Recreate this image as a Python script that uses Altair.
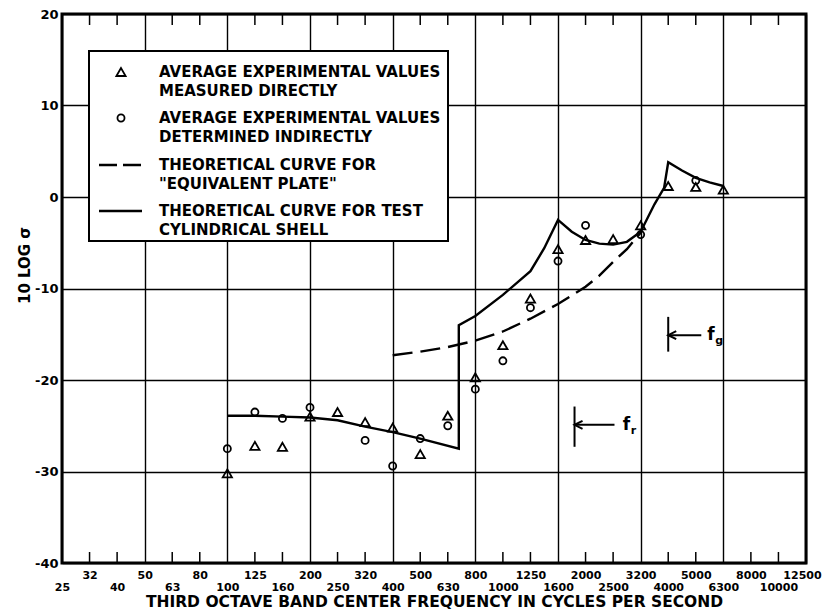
import altair as alt
import pandas as pd

# ---------------- data ----------------
bands = ["25", "32", "40", "50", "63", "80", "100", "125", "160", "200", "250",
         "320", "400", "500", "630", "800", "1000", "1250", "1600", "2000",
         "2500", "3200", "4000", "5000", "6300", "8000", "10000", "12500"]
band_pos = {b: i for i, b in enumerate(bands)}

# average experimental values measured directly (triangles)
direct_bands = ["100", "125", "160", "200", "250", "320", "400", "500", "630", "800",
                "1000", "1250", "1600", "2000", "2500", "3200", "4000", "5000", "6300"]
direct_vals = [-30.2, -27.2, -27.3, -24.0, -23.5, -24.6, -25.2, -28.1, -23.9, -19.7,
               -16.2, -11.1, -5.7, -4.7, -4.6, -3.1, 1.2, 1.1, 0.8]

# average experimental values determined indirectly (circles)
indirect_bands = ["100", "125", "160", "200", "320", "400", "500", "630", "800",
                  "1000", "1250", "1600", "2000", "3200", "5000"]
indirect_vals = [-27.5, -23.5, -24.2, -23.0, -26.6, -29.4, -26.4, -25.0, -21.0,
                 -17.9, -12.1, -7.0, -3.1, -4.1, 1.8]

# theoretical curve for test cylindrical shell (position in band steps)
shell_pos = [6, 7, 8, 9, 10, 11, 12, 13, 14.4, 14.4, 15, 16, 17, 17.5, 18, 18.5,
             19, 19.5, 20, 20.5, 21, 21.5, 21.85, 22, 22.5, 23, 23.5, 24]
shell_vals = [-23.9, -23.9, -24.0, -24.1, -24.4, -25.1, -25.7, -26.4, -27.5, -14.0,
              -13.0, -10.7, -8.1, -5.6, -2.5, -3.8, -4.7, -5.1, -5.2, -4.9, -3.8,
              -0.8, 1.0, 3.8, 2.9, 2.1, 1.6, 1.2]

# theoretical curve for "equivalent plate"
plate_pos = [12, 13, 14, 15, 16, 17, 18, 19, 19.5, 20, 20.5, 21]
plate_vals = [-17.3, -16.9, -16.4, -15.7, -14.7, -13.3, -11.7, -9.8, -8.6, -7.1,
              -5.7, -3.9]

legend_lines = ["AVERAGE EXPERIMENTAL VALUES", "MEASURED DIRECTLY",
                "AVERAGE EXPERIMENTAL VALUES", "DETERMINED INDIRECTLY",
                "THEORETICAL CURVE FOR", "\"EQUIVALENT PLATE\"",
                "THEORETICAL CURVE FOR TEST", "CYLINDRICAL SHELL"]

# frequency markers f_r and f_g
marker_sub = ["r", "g"]
marker_pos = [18.6, 22.0]
marker_top = [-22.9, -13.1]
marker_bottom = [-27.3, -16.9]
marker_arrow_y = [-24.9, -15.1]
marker_tail = [20.05, 23.2]
marker_text_pos = [20.35, 23.42]

y_ticks = [-40, -30, -20, -10, 0, 10, 20]

# ---------------- layout ----------------
W, H = 744, 549
FONT = "DejaVu Sans"
INK = "black"
LAST = len(bands) - 1

xs = alt.Scale(domain=[0, LAST], nice=False, zero=False)
ys = alt.Scale(domain=[y_ticks[0], y_ticks[-1]], nice=False, zero=False)

band_arr = "[" + ",".join("'%s'" % b for b in bands) + "]"
label_expr = ("datum.value % 2 == 1 ? " + band_arr + "[datum.value] : ['', "
              + band_arr + "[datum.value]]")

x_axis = alt.Axis(
    values=list(range(len(bands))),
    labelExpr=label_expr,
    labelFontSize=11, labelFontWeight="bold", labelLineHeight=12, labelPadding=6,
    labelOffset={"condition": {"test": "datum.value == %d" % LAST, "value": -4}, "value": 0},
    labelOverlap=False, labelFlush=False, labelBound=False,
    ticks=False, domain=False,
    grid=True, gridColor=INK, gridWidth=1.4,
    gridOpacity={"condition": {"test": "datum.value % 3 == 0", "value": 1}, "value": 0},
    title="THIRD OCTAVE BAND CENTER FREQUENCY IN CYCLES PER SECOND",
    titleFontSize=15.5, titleFontWeight="bold", titlePadding=2,
)
y_axis = alt.Axis(
    values=y_ticks,
    labelExpr="'' + datum.value",
    labelFontSize=13, labelFontWeight="bold", labelPadding=4,
    ticks=False, domain=False,
    grid=True, gridColor=INK, gridWidth=1.4,
    title="10 LOG σ", titleFontSize=15, titleFontWeight="bold", titlePadding=2,
    titleY=251,
)

X = lambda f: alt.X(f, scale=xs, axis=x_axis)
Y = lambda f: alt.Y(f, scale=ys, axis=y_axis)

shell_df = pd.DataFrame({"pos": shell_pos, "val": shell_vals,
                         "order": list(range(len(shell_pos)))})
shell = alt.Chart(shell_df).mark_line(color=INK, strokeWidth=2.4).encode(
    x=X("pos:Q"), y=Y("val:Q"), order="order:Q",
)

plate_df = pd.DataFrame({"pos": plate_pos, "val": plate_vals})
plate = alt.Chart(plate_df).mark_line(color=INK, strokeWidth=2.4, strokeDash=[20, 8]).encode(
    x=X("pos:Q"), y=Y("val:Q"),
)

direct_df = pd.DataFrame({"pos": [band_pos[b] for b in direct_bands], "val": direct_vals})
direct = alt.Chart(direct_df).mark_point(
    shape="triangle-up", filled=False, size=85, strokeWidth=1.8, color=INK, opacity=1
).encode(x=X("pos:Q"), y=Y("val:Q"))

indirect_df = pd.DataFrame({"pos": [band_pos[b] for b in indirect_bands], "val": indirect_vals})
indirect = alt.Chart(indirect_df).mark_point(
    shape="circle", filled=False, size=50, strokeWidth=1.8, color=INK, opacity=1
).encode(x=X("pos:Q"), y=Y("val:Q"))

minor_df = pd.DataFrame({"pos": [i for i in range(len(bands)) if i % 3 != 0]})
ticks_bottom = alt.Chart(minor_df).mark_rule(color=INK, strokeWidth=1.5).encode(
    x=X("pos:Q"), y=alt.value(H), y2=alt.value(H - 11))
ticks_top = alt.Chart(minor_df).mark_rule(color=INK, strokeWidth=1.5).encode(
    x=X("pos:Q"), y=alt.value(0), y2=alt.value(11))

# ---------------- legend box ----------------
one = pd.DataFrame({"k": [0]})
leg_box = alt.Chart(one).mark_rect(fill="white", stroke=INK, strokeWidth=2).encode(
    x=alt.value(27), x2=alt.value(386), y=alt.value(37), y2=alt.value(227))

leg_text_df = pd.DataFrame({
    "text": legend_lines,
    "ypx": [58 + (i // 2) * 46.3 + (i % 2) * 19 for i in range(len(legend_lines))],
})
leg_text = alt.Chart(leg_text_df).mark_text(
    align="left", baseline="middle", font=FONT, fontSize=15, fontWeight="bold", color=INK
).encode(x=alt.value(97), y=alt.Y("ypx:Q", scale=None), text="text:N")

leg_tri = alt.Chart(one).mark_point(
    shape="triangle-up", filled=False, size=85, strokeWidth=1.8, color=INK, opacity=1
).encode(x=alt.value(59), y=alt.value(58))
leg_circ = alt.Chart(one).mark_point(
    shape="circle", filled=False, size=50, strokeWidth=1.8, color=INK, opacity=1
).encode(x=alt.value(59), y=alt.value(104))
leg_dash = alt.Chart(one).mark_rule(color=INK, strokeWidth=2.4, strokeDash=[18, 6]).encode(
    x=alt.value(37), x2=alt.value(80), y=alt.value(151))
leg_solid = alt.Chart(one).mark_rule(color=INK, strokeWidth=2.4).encode(
    x=alt.value(37), x2=alt.value(80), y=alt.value(197))

# ---------------- f_r / f_g markers ----------------
mk_df = pd.DataFrame({
    "sub": marker_sub, "pos": marker_pos, "top": marker_top, "bot": marker_bottom,
    "ay": marker_arrow_y, "tail": marker_tail, "tpos": marker_text_pos,
})
mk_bar = alt.Chart(mk_df).mark_rule(color=INK, strokeWidth=2).encode(
    x=X("pos:Q"), y=Y("top:Q"), y2="bot:Q")
mk_shaft = alt.Chart(mk_df).mark_rule(color=INK, strokeWidth=2).encode(
    x=X("pos:Q"), x2="tail:Q", y=Y("ay:Q"))
mk_head = alt.Chart(mk_df).mark_point(
    shape="M 2 -1 L 0 0 L 2 1", filled=False, size=64, strokeWidth=2, color=INK, opacity=1
).encode(x=X("pos:Q"), y=Y("ay:Q"))
mk_f = alt.Chart(mk_df).mark_text(
    text="f", align="left", baseline="middle", font=FONT, fontSize=17, fontWeight="bold",
    color=INK
).encode(x=X("tpos:Q"), y=Y("ay:Q"))
mk_s = alt.Chart(mk_df).mark_text(
    align="left", baseline="middle", font=FONT, fontSize=11, fontWeight="bold", color=INK,
    dx=8, dy=6
).encode(x=X("tpos:Q"), y=Y("ay:Q"), text="sub:N")

chart = alt.layer(
    shell, ticks_bottom, ticks_top, plate, direct, indirect,
    leg_box, leg_text, leg_tri, leg_circ, leg_dash, leg_solid,
    mk_bar, mk_shaft, mk_head, mk_f, mk_s,
).properties(
    width=W, height=H,
    autosize=alt.AutoSizeParams(type="none"),
    padding={"left": 54, "top": 6, "right": 16, "bottom": 52},
    background="white",
).configure_view(
    stroke=INK, strokeWidth=3
).configure_axis(
    labelFont=FONT, titleFont=FONT, labelColor=INK, titleColor=INK,
)

chart.save("out.html", embed_options={"renderer": "svg", "actions": False})
